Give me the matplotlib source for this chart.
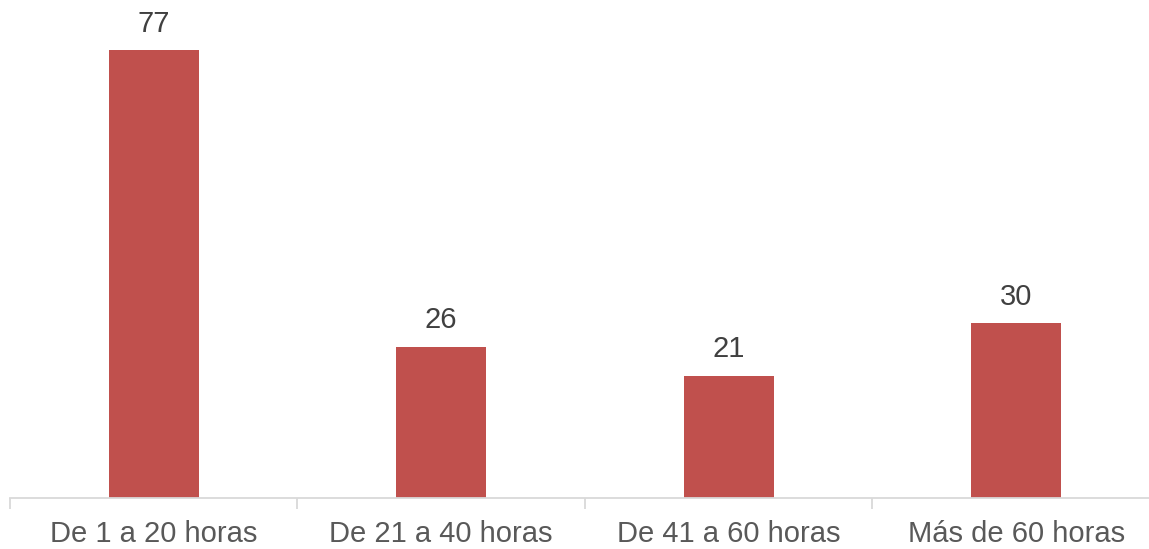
import numpy as np
import matplotlib.pyplot as plt

categorias = ['De 1 a 20 horas', 'De 21 a 40 horas', 'De 41 a 60 horas', 'Más de 60 horas']
valores = [77, 26, 21, 30]

plt.rcParams['font.family'] = ['Liberation Sans', 'DejaVu Sans']

fig = plt.figure(figsize=(11.49, 5.49), dpi=100)
ax = fig.add_axes([10 / 1149, 51 / 549, 1150 / 1149, 498 / 549])

x = np.arange(len(categorias))
bars = ax.bar(x, valores, width=0.313, color='#C0504D')

for b, v in zip(bars, valores):
    ax.annotate(str(v), (b.get_x() + b.get_width() / 2, v), xytext=(0, 9),
                textcoords='offset points', ha='center', va='bottom',
                fontsize=21, color='#404040')

ax.set_xlim(-0.5, len(categorias) - 0.5)
ax.set_ylim(0, 85.6)
ax.set_xticks(x)
ax.set_xticklabels(categorias, fontsize=21, color='#595959')
ax.set_xticks(np.arange(len(categorias) + 1) - 0.5, minor=True)
ax.tick_params(axis='x', which='major', length=0, pad=16)
ax.tick_params(axis='x', which='minor', length=8, color='#D9D9D9', width=1.3)
ax.set_yticks([])
for s in ['top', 'right', 'left']:
    ax.spines[s].set_visible(False)
ax.spines['bottom'].set_color('#D9D9D9')
ax.spines['bottom'].set_linewidth(1.3)

fig.savefig('out.png', dpi=100)
